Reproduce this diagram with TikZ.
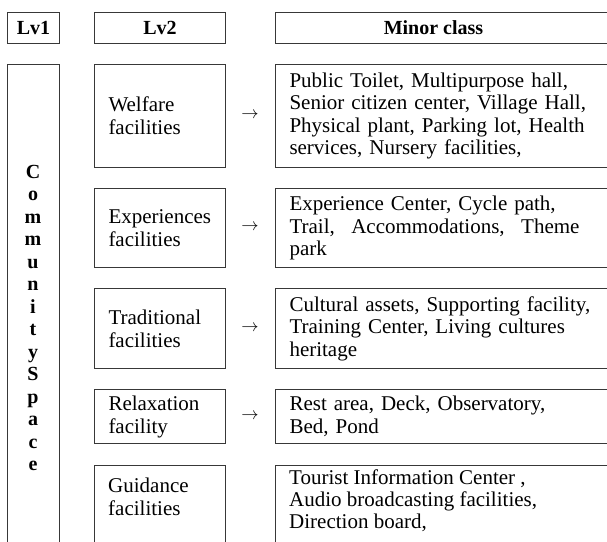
\documentclass[tikz,border=0pt]{standalone}
\usepackage{fontspec}
\setmainfont{Liberation Serif}
\begin{document}
\begin{tikzpicture}[x=1pt,y=-1pt,
  frame/.style={draw=black!78, line width=1pt},
  hdr/.style={frame, anchor=north west, minimum height=31pt, inner sep=0pt, font=\fontsize{20}{22}\selectfont\bfseries},
  lvtwo/.style={frame, anchor=north west, inner xsep=14pt, inner ysep=0pt, text width=103pt, align=left, font=\fontsize{21}{23}\selectfont},
  minor/.style={frame, anchor=north west, inner xsep=14pt, inner ysep=0pt, text width=312pt, align=left, font=\fontsize{21}{22.5}\selectfont},
  plain/.style={inner sep=0pt, anchor=west, align=left},
  arr/.style={inner sep=0pt, font=\fontsize{19}{20}\selectfont}]
\useasboundingbox (0,0) rectangle (607,541);
\clip (0,0) rectangle (607,541);
% headers
\node[hdr, minimum width=52pt] (h1) at (7,12) {Lv1};
\node[hdr, minimum width=131pt] (h2) at (94,12) {Lv2};
\node[hdr, minimum width=340pt] (h3) at (275,12) {\hspace*{-12pt}Minor class\hspace*{12pt}};
% Lv1 column
\node[frame, anchor=north west, minimum width=52pt, minimum height=520pt, inner sep=0pt] (l1) at (7,64) {};
\node[inner sep=0pt, align=center, font=\fontsize{20}{22.5}\selectfont\bfseries] (cs) at (33,318)
  {C\\o\\m\\m\\u\\n\\i\\t\\y\\S\\p\\a\\c\\e};
% row 1
\node[lvtwo, minimum height=103pt] (w2) at (94,64) {Welfare\\facilities};
\node[minor, minimum height=103pt] (w3) at (275,64) {Public Toilet, Multipurpose hall,\\Senior citizen center, Village Hall,\\Physical plant, Parking lot, Health\\services, Nursery facilities,};
\node[arr] (wa) at (250,115.5) {$\rightarrow$};
% row 2
\node[lvtwo, minimum height=79pt] (e2) at (94,188) {Experiences\\facilities};
\node[minor, minimum height=79pt] (e3) at (275,188) {Experience Center, Cycle path,\\\makebox[290pt][s]{Trail,\hfill Accommodations,\hfill Theme}\\park};
\node[arr] (ea) at (250,227.5) {$\rightarrow$};
% row 3
\node[lvtwo, minimum height=80pt] (t2) at (94,288) {Traditional\\facilities};
\node[minor, minimum height=80pt] (t3) at (275,288) {Cultural assets, Supporting facility,\\Training Center, Living cultures\\heritage};
\node[arr] (ta) at (250,328) {$\rightarrow$};
% row 4
\node[lvtwo, minimum height=54pt] (r2) at (94,389) {Relaxation\\facility};
\node[minor, minimum height=54pt] (r3) at (275,389) {Rest area, Deck, Observatory,\\Bed, Pond};
\node[arr] (ra) at (250,416) {$\rightarrow$};
% row 5 (runs past the lower edge)
\node[frame, anchor=north west, minimum width=131pt, minimum height=120pt, inner sep=0pt] (g2) at (94,465) {};
\node[frame, anchor=north west, minimum width=340pt, minimum height=120pt, inner sep=0pt] (g3) at (275,465) {};
\node[plain, font=\fontsize{21}{23}\selectfont] (g2t) at (108,497) {Guidance\\facilities};
\node[plain, font=\fontsize{21}{22}\selectfont] (g3t) at (289,501) {Tourist Information Center ,\\Audio broadcasting facilities,\\Direction board,};
\end{tikzpicture}
\end{document}
